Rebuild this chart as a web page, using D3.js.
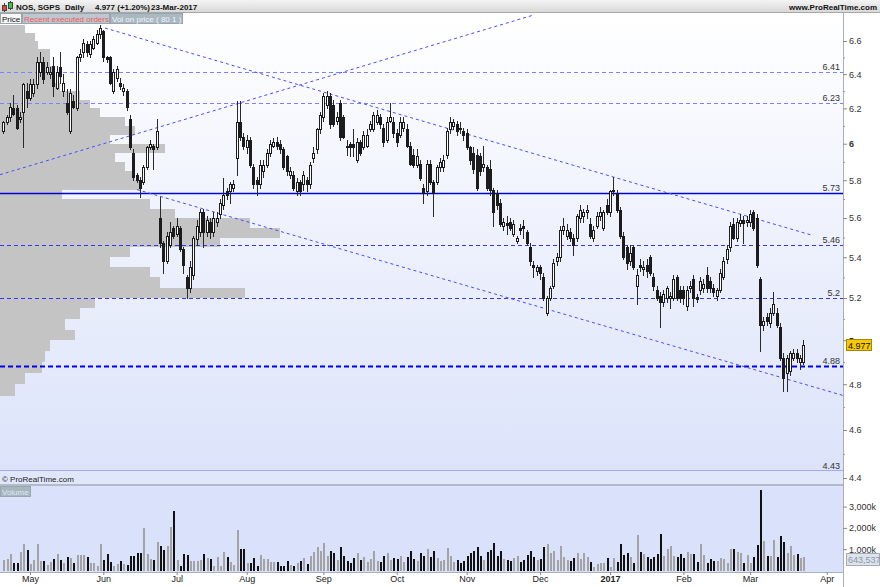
<!DOCTYPE html>
<html><head><meta charset="utf-8">
<script src="https://cdn.jsdelivr.net/npm/d3@7"></script>
<style>
body{margin:0;background:#fff}
svg{display:block;font-family:"Liberation Sans",Arial,sans-serif}
</style>
</head><body>
<svg id="chart" width="880" height="587"></svg>
<script>
// ---------------- DATA ----------------
const firstDay = "2016-04-20";
const lastAxisDay = "2017-04-10";
const holidays = ["2016-12-26"];
const monthLabels = ["May","Jun","Jul","Aug","Sep","Oct","Nov","Dec","2017","Feb","Mar","Apr"];

const opens = [
6.07,6.12,6.15,6.20,6.20,6.14,6.18,6.30,6.26,6.29,
6.34,6.41,6.47,6.41,6.40,6.45,6.32,6.44,6.30,6.23,
6.07,6.24,6.20,6.50,6.53,6.58,6.52,6.56,6.59,6.64,
6.66,6.50,6.50,6.30,6.38,6.35,6.30,6.30,6.14,5.95,
5.83,5.80,5.79,5.87,5.98,5.99,5.98,5.60,5.47,5.38,
5.46,5.55,5.52,5.55,5.44,5.30,5.25,5.31,5.49,5.53,
5.63,5.53,5.58,5.53,5.58,5.62,5.67,5.74,5.74,5.76,
5.92,6.12,6.04,5.98,6.02,5.87,5.80,5.78,5.85,5.88,
5.95,5.99,6.01,6.00,5.97,5.93,5.83,5.83,5.74,5.79,
5.78,5.80,5.78,5.92,5.97,6.08,6.15,6.22,6.27,6.22,
6.13,6.23,6.15,5.99,6.00,6.00,5.91,6.01,5.98,5.99,
6.08,6.08,6.12,6.15,6.09,6.02,6.13,6.12,6.06,6.05,
6.09,6.08,5.99,5.94,5.88,5.89,5.76,5.74,5.89,5.79,
5.79,5.87,5.87,5.94,6.08,6.10,6.11,6.09,6.07,6.06,
5.98,5.95,5.94,5.93,5.87,5.87,5.86,5.75,5.73,5.68,
5.56,5.573,5.58,5.52,5.48,5.55,5.56,5.53,5.45,5.36,
5.33,5.35,5.30,5.13,5.20,5.26,5.38,5.40,5.54,5.51,
5.53,5.50,5.50,5.60,5.61,5.63,5.57,5.50,5.56,5.61,
5.55,5.67,5.63,5.74,5.73,5.64,5.51,5.45,5.38,5.45,
5.26,5.36,5.34,5.36,5.40,5.30,5.24,5.21,5.18,5.20,
5.20,5.20,5.30,5.24,5.24,5.16,5.25,5.29,5.205,5.24,
5.25,5.31,5.28,5.25,5.21,5.24,5.30,5.39,5.45,5.57,
5.50,5.575,5.59,5.58,5.58,5.63,5.60,5.29,5.07,5.11,
5.08,5.13,5.13,5.06,4.92,4.85,4.86,4.92,4.94,4.90,
4.90];

const highs = [
6.13,6.16,6.23,6.28,6.22,6.18,6.35,6.35,6.37,6.37,
6.50,6.53,6.50,6.47,6.44,6.50,6.45,6.53,6.40,6.31,
6.31,6.28,6.51,6.55,6.61,6.60,6.60,6.63,6.67,6.70,
6.67,6.51,6.51,6.43,6.45,6.38,6.34,6.31,6.16,5.97,
5.84,5.82,5.88,5.99,6.02,6.00,6.14,5.71,5.48,5.53,
5.58,5.56,5.60,5.56,5.45,5.31,5.38,5.51,5.59,5.65,
5.65,5.61,5.60,5.63,5.63,5.70,5.81,5.76,5.79,5.80,
6.24,6.24,6.06,6.05,6.04,5.89,5.82,5.91,5.91,5.97,
6.02,6.03,6.04,6.02,5.98,5.94,5.87,5.85,5.81,5.80,
5.85,5.82,5.90,5.98,6.09,6.18,6.29,6.30,6.29,6.25,
6.18,6.25,6.16,6.02,6.01,6.08,6.03,6.02,6.07,6.08,
6.13,6.18,6.19,6.17,6.11,6.15,6.23,6.15,6.08,6.15,
6.15,6.11,6.01,5.97,5.97,5.91,5.78,5.91,5.91,5.80,
5.88,5.92,5.94,6.09,6.15,6.14,6.13,6.12,6.09,6.08,
5.99,5.98,5.97,5.95,5.99,5.88,5.91,5.76,5.75,5.70,
5.60,5.61,5.60,5.59,5.51,5.57,5.59,5.54,5.47,5.38,
5.36,5.36,5.32,5.21,5.26,5.39,5.42,5.56,5.60,5.57,
5.55,5.52,5.62,5.67,5.65,5.67,5.60,5.56,5.63,5.66,
5.64,5.70,5.75,5.82,5.75,5.66,5.53,5.46,5.46,5.46,
5.34,5.39,5.38,5.39,5.41,5.32,5.26,5.23,5.24,5.26,
5.23,5.31,5.31,5.26,5.26,5.26,5.28,5.31,5.22,5.30,
5.29,5.35,5.30,5.27,5.25,5.34,5.40,5.46,5.58,5.60,
5.60,5.62,5.61,5.61,5.64,5.64,5.62,5.30,5.11,5.13,
5.15,5.23,5.15,5.08,4.94,4.93,4.95,4.96,4.96,4.93,
5.00];

const lows = [
6.06,6.11,6.13,6.16,6.08,6.12,5.98,6.21,6.25,6.27,
6.32,6.39,6.35,6.40,6.38,6.27,6.31,6.35,6.27,6.17,
6.06,6.20,6.19,6.48,6.50,6.51,6.50,6.55,6.58,6.62,
6.48,6.47,6.34,6.29,6.36,6.31,6.28,6.19,5.97,5.80,
5.79,5.71,5.78,5.86,5.97,5.86,5.97,5.45,5.32,5.37,
5.45,5.50,5.51,5.43,5.32,5.20,5.23,5.29,5.46,5.51,
5.45,5.51,5.50,5.51,5.56,5.60,5.65,5.70,5.68,5.74,
5.83,6.02,5.97,5.95,5.87,5.76,5.72,5.76,5.82,5.87,
5.93,5.98,5.97,5.95,5.86,5.83,5.81,5.75,5.72,5.72,
5.75,5.74,5.76,5.90,5.95,6.06,6.13,6.20,6.09,6.10,
6.11,6.02,6.03,5.94,5.93,5.93,5.90,5.94,5.97,5.98,
6.07,6.07,6.11,6.09,5.99,6.01,6.12,6.04,5.99,6.04,
6.07,5.98,5.88,5.87,5.87,5.80,5.68,5.72,5.78,5.61,
5.78,5.85,5.85,5.92,6.06,6.08,6.05,6.06,6.02,5.97,
5.89,5.84,5.75,5.83,5.85,5.75,5.72,5.56,5.65,5.56,
5.54,5.52,5.54,5.51,5.47,5.52,5.50,5.46,5.36,5.30,
5.31,5.29,5.19,5.12,5.19,5.25,5.36,5.38,5.52,5.49,
5.48,5.41,5.48,5.58,5.58,5.60,5.50,5.48,5.55,5.59,
5.54,5.62,5.61,5.72,5.63,5.50,5.39,5.34,5.36,5.34,
5.17,5.33,5.31,5.30,5.31,5.24,5.19,5.06,5.16,5.18,
5.15,5.19,5.19,5.18,5.17,5.14,5.23,5.16,5.18,5.22,
5.23,5.23,5.23,5.21,5.19,5.23,5.29,5.37,5.43,5.49,
5.48,5.56,5.47,5.56,5.56,5.54,5.35,4.95,5.05,5.07,
5.06,5.12,5.06,4.91,4.77,4.77,4.84,4.91,4.90,4.87,
4.89];

const closes = [
6.12,6.15,6.21,6.17,6.09,6.15,6.34,6.26,6.34,6.34,
6.47,6.47,6.37,6.44,6.41,6.33,6.41,6.39,6.35,6.18,
6.29,6.21,6.50,6.52,6.59,6.53,6.58,6.61,6.64,6.68,
6.50,6.49,6.35,6.41,6.43,6.33,6.32,6.21,5.98,5.82,
5.80,5.76,5.87,5.98,6.00,5.97,6.07,5.47,5.38,5.51,
5.53,5.51,5.56,5.44,5.36,5.25,5.35,5.50,5.56,5.63,
5.53,5.59,5.53,5.60,5.60,5.68,5.72,5.72,5.78,5.78,
6.12,6.04,5.99,6.02,5.88,5.78,5.78,5.88,5.88,5.95,
6.00,6.01,5.99,5.97,5.87,5.85,5.85,5.76,5.79,5.74,
5.83,5.78,5.88,5.95,6.08,6.16,6.27,6.27,6.11,6.11,
6.15,6.04,6.04,5.985,5.98,5.98,6.01,5.95,6.05,6.05,
6.11,6.16,6.16,6.11,6.01,6.12,6.15,6.06,6.01,6.12,
6.12,5.99,5.89,5.88,5.93,5.81,5.73,5.89,5.79,5.73,
5.87,5.90,5.91,6.07,6.12,6.12,6.07,6.08,6.05,5.98,
5.91,5.86,5.76,5.85,5.89,5.76,5.75,5.63,5.67,5.57,
5.58,5.565,5.55,5.57,5.50,5.54,5.55,5.47,5.38,5.35,
5.35,5.32,5.20,5.20,5.25,5.37,5.40,5.54,5.56,5.54,
5.50,5.46,5.61,5.64,5.63,5.64,5.51,5.54,5.61,5.63,
5.63,5.63,5.74,5.75,5.64,5.51,5.40,5.37,5.42,5.35,
5.31,5.35,5.35,5.33,5.32,5.26,5.20,5.18,5.22,5.25,
5.21,5.29,5.20,5.20,5.20,5.24,5.26,5.20,5.195,5.28,
5.27,5.25,5.25,5.23,5.24,5.32,5.38,5.44,5.56,5.50,
5.58,5.59,5.575,5.59,5.62,5.55,5.36,5.07,5.09,5.09,
5.13,5.17,5.07,4.92,4.83,4.92,4.94,4.94,4.92,4.92,
4.977];

// volume in thousands of shares
const volumes = [
470,550,780,375,375,890,1250,940,310,500,
1250,450,450,265,405,530,780,500,345,625,
580,345,735,735,735,625,375,345,190,1250,
500,780,420,220,310,450,310,250,690,690,
815,845,1990,780,530,500,1315,1160,970,1160,
2035,2815,470,190,780,705,450,440,440,500,
780,580,530,220,625,190,890,625,420,235,
1910,1030,1000,375,345,580,190,735,530,530,
405,390,390,190,220,450,250,190,330,450,
600,300,700,850,1100,900,1300,700,900,800,
500,1100,700,450,350,600,800,500,650,400,
550,900,450,400,700,800,500,600,550,700,
400,650,900,550,450,800,700,1000,650,900,
600,450,500,1050,700,400,500,350,450,700,
800,900,1100,700,500,850,950,1300,700,900,
550,500,450,600,700,400,500,750,900,650,
500,550,1100,1250,800,900,500,1150,650,500,
450,600,800,530,845,625,405,155,300,375,
375,580,155,580,420,1250,735,815,655,375,
1660,860,765,625,530,625,780,1720,690,1015,
1160,690,625,780,580,890,780,780,420,1250,
720,375,530,455,455,610,530,345,1000,1000,
890,845,375,735,345,625,1205,3756,1390,690,
690,1440,655,1630,1360,845,1160,735,780,580,
643.537];

// volume-on-price profile (lower edge of each 0.05 bin, volume in arbitrary units)
const profileLevels = [4.75,4.80,4.85,4.90,4.95,5.00,5.05,5.10,5.15,5.20,5.25,5.30,5.35,5.40,5.45,5.50,5.55,5.60,5.65,5.70,5.75,5.80,5.85,5.90,5.95,6.00,6.05,6.10,6.15,6.20,6.25,6.30,6.35,6.40,6.45,6.50,6.55,6.60,6.65];
const profileVolumes = [15,25,42,45,50,75,65,80,95,245,160,150,110,130,220,280,250,175,150,62,140,135,125,115,165,110,135,125,100,90,80,60,55,55,50,50,38,35,25];
const profileStep = 0.05;

// horizontal support / resistance levels
const levelValues = [6.41, 6.23, 5.73, 5.46, 5.2, 4.88, 4.43];
const levelLabels = ["6.41","6.23","5.73","5.46","5.2","4.88","4.43"];

// trend lines: start/end as (bar index, price)
const trendStartIdx = [30.5, -0.99, 40.1];
const trendStartPrice = [6.68, 5.83, 5.75];
const trendEndIdx = [242.9, 158.9, 251.9];
const trendEndPrice = [5.51, 6.76, 4.75];

const priceTicks = [4.4,4.6,4.8,5,5.2,5.4,5.6,5.8,6,6.2,6.4,6.6];
const priceMinorTicks = [4.5,4.7,4.9,5.1,5.3,5.5,5.7,5.9,6.1,6.3,6.5];
const volumeTicks = [1000,2000,3000];

const headerTexts = ["NOS, SGPS", "Daily", "4.977 (+1.20%)", "23-Mar-2017"];
const tabLabels = ["Price", "Recent executed orders", "Vol on price ( 80 1 )"];

// ---------------- LAYOUT / STYLE ----------------
const W = 880, H = 587;
const plotRight = 843;
const priceTop = 13, priceBottom = 471;
const volTop = 486, volBottom = 572;
const FONT = 9;

// trading days (weekdays minus exchange holidays)
const tradingDays = [];
{
  const d = new Date(firstDay + "T00:00:00Z");
  const end = new Date(lastAxisDay + "T00:00:00Z");
  while (d <= end) {
    const wd = d.getUTCDay();
    const key = d.toISOString().slice(0, 10);
    if (wd !== 0 && wd !== 6 && !holidays.includes(key)) tradingDays.push(key);
    d.setUTCDate(d.getUTCDate() + 1);
  }
}
const monthTickIdx = [];
for (let i = 1; i < tradingDays.length; i++) {
  if (tradingDays[i].slice(5, 7) !== tradingDays[i - 1].slice(5, 7)) monthTickIdx.push(i);
}

const svg = d3.select("#chart");
const defs = svg.append("defs");
const g1 = defs.append("linearGradient").attr("id", "pg").attr("x1", 0).attr("y1", 0).attr("x2", 0).attr("y2", 1);
g1.append("stop").attr("offset", "0%").attr("stop-color", "#ffffff");
g1.append("stop").attr("offset", "100%").attr("stop-color", "#dce3fa");
const g2 = defs.append("linearGradient").attr("id", "hg").attr("x1", 0).attr("y1", 0).attr("x2", 0).attr("y2", 1);
g2.append("stop").attr("offset", "0%").attr("stop-color", "#f4f4f4");
g2.append("stop").attr("offset", "100%").attr("stop-color", "#d6d6d6");
defs.append("clipPath").attr("id", "pclip").append("rect")
  .attr("x", 0).attr("y", priceTop).attr("width", plotRight).attr("height", priceBottom - priceTop);

// scales
const x = d3.scaleLinear().domain([-0.99, 251.86]).range([0, plotRight]);
const y = d3.scaleLog().domain([4.4, 6.6]).range([478, 41]);
const yv = d3.scaleLinear().domain([0, 1000]).range([570.5, 549.2]);
const xp = d3.scaleLinear().domain([0, d3.max(profileVolumes)]).range([0, 280]);

// backgrounds
svg.append("rect").attr("width", W).attr("height", H).attr("fill", "#ffffff");
svg.append("rect").attr("x", 0).attr("y", priceTop).attr("width", plotRight).attr("height", priceBottom - priceTop).attr("fill", "url(#pg)");
svg.append("rect").attr("x", 0).attr("y", priceBottom).attr("width", plotRight).attr("height", 13).attr("fill", "#e1e7fb");
svg.append("rect").attr("x", 0).attr("y", 484).attr("width", plotRight).attr("height", 2).attr("fill", "#b3bbc8");
svg.append("rect").attr("x", 0).attr("y", volTop).attr("width", plotRight).attr("height", volBottom - volTop).attr("fill", "#dae2fb");

// header
svg.append("rect").attr("x", 0).attr("y", 0).attr("width", W).attr("height", 13).attr("fill", "url(#hg)");
svg.append("line").attr("x1", 0).attr("x2", W).attr("y1", 12.5).attr("y2", 12.5).attr("stroke", "#a8a8a8");
// icon (two tiny candles)
svg.append("line").attr("x1", 4.5).attr("x2", 4.5).attr("y1", 3).attr("y2", 12).attr("stroke", "#444");
svg.append("rect").attr("x", 2.5).attr("y", 5.5).attr("width", 4).attr("height", 5).attr("fill", "#e8413a").attr("stroke", "#444");
svg.append("line").attr("x1", 10.5).attr("x2", 10.5).attr("y1", 1).attr("y2", 10).attr("stroke", "#444");
svg.append("rect").attr("x", 8.5).attr("y", 2.5).attr("width", 4).attr("height", 6).attr("fill", "#35c24a").attr("stroke", "#444");
const headerX = [16, 65, 95, 151];
headerTexts.forEach((t, i) => {
  svg.append("text").attr("x", headerX[i]).attr("y", 9.5).attr("font-size", 8).attr("font-weight", "bold")
    .attr("fill", "#111").text(t);
});
svg.append("text").attr("x", 877).attr("y", 9.5).attr("text-anchor", "end").attr("font-size", 8).attr("font-weight", "bold")
  .attr("fill", "#111").text("www.ProRealTime.com");

// clipped price layer
const pl = svg.append("g").attr("clip-path", "url(#pclip)");

// volume profile
pl.append("g").selectAll("rect").data(profileLevels).join("rect")
  .attr("x", 0)
  .attr("y", d => y(d + profileStep))
  .attr("height", d => y(d) - y(d + profileStep))
  .attr("width", (d, i) => xp(profileVolumes[i]))
  .attr("fill", "#c4c4c4")
  .attr("shape-rendering", "crispEdges");

// horizontal levels
const levelStyle = [
  {c: "#8080ff", w: 1, dash: "4,3"},
  {c: "#8080ff", w: 1, dash: "4,3"},
  {c: "#0000d8", w: 1.6, dash: null},
  {c: "#3535ff", w: 1, dash: "4,3"},
  {c: "#3535ff", w: 1, dash: "4,3"},
  {c: "#0000ee", w: 2, dash: "5,3"},
  {c: "#0000d8", w: 1.6, dash: null}
];
levelValues.forEach((v, i) => {
  const yy = Math.round(y(v)) + 0.5;
  pl.append("line").attr("x1", 0).attr("x2", plotRight).attr("y1", yy).attr("y2", yy)
    .attr("stroke", levelStyle[i].c).attr("stroke-width", levelStyle[i].w)
    .attr("stroke-dasharray", levelStyle[i].dash);
});

// trend lines
trendStartIdx.forEach((s, i) => {
  pl.append("line")
    .attr("x1", x(s)).attr("y1", y(trendStartPrice[i]))
    .attr("x2", x(trendEndIdx[i])).attr("y2", y(trendEndPrice[i]))
    .attr("stroke", "#4b4bff").attr("stroke-width", 1).attr("stroke-dasharray", "3,3");
});

// candles
const cg = pl.append("g").attr("shape-rendering", "crispEdges");
opens.forEach((o, i) => {
  const c = closes[i];
  const hi = Math.max(highs[i], o, c), lo = Math.min(lows[i], o, c);
  const cx = Math.round(x(i));
  const up = c >= o;
  cg.append("line").attr("x1", cx + 0.5).attr("x2", cx + 0.5)
    .attr("y1", Math.round(y(hi))).attr("y2", Math.round(y(lo)) + 1)
    .attr("stroke", "#2a2a2a");
  const top = Math.round(y(Math.max(o, c)));
  const bot = Math.round(y(Math.min(o, c)));
  cg.append("rect").attr("x", cx - 0.5).attr("y", top + 0.5)
    .attr("width", 2).attr("height", Math.max(1, bot - top))
    .attr("fill", up ? "#ffffff" : "#1c1c1c").attr("stroke", "#1c1c1c").attr("stroke-width", 1);
});

// level labels
levelValues.forEach((v, i) => {
  svg.append("text").attr("x", 840).attr("y", Math.round(y(v)) - 2)
    .attr("text-anchor", "end").attr("font-size", FONT).attr("fill", "#333").text(levelLabels[i]);
});

// tabs
const tabX = [0, 22, 110], tabW = [22, 88, 73];
const tabBg = ["#f6f6f6", "#bcc7cf", "#aab8c2"], tabFg = ["#111", "#f05a5a", "#f2f5f7"];
tabLabels.forEach((t, i) => {
  svg.append("rect").attr("x", tabX[i] + 0.5).attr("y", 13.5).attr("width", tabW[i] - 1).attr("height", 10)
    .attr("fill", tabBg[i]).attr("stroke", "#9aa4ad");
  svg.append("text").attr("x", tabX[i] + 2).attr("y", 21.5).attr("font-size", 8).attr("fill", tabFg[i]).text(t);
});

// copyright strip
svg.append("text").attr("x", 2).attr("y", 482).attr("font-size", 8).attr("fill", "#222").text("\u00a9 ProRealTime.com");

// volume bars
svg.append("g").attr("shape-rendering", "crispEdges").selectAll("rect").data(volumes).join("rect")
  .attr("x", (d, i) => Math.round(x(i)) - 0.5)
  .attr("y", d => yv(d))
  .attr("width", 2)
  .attr("height", d => yv(0) - yv(d))
  .attr("fill", (d, i) => closes[i] < opens[i] ? "#111111" : "#a3a3a3");

// volume label
svg.append("rect").attr("x", 0.5).attr("y", 486.5).attr("width", 30).attr("height", 10).attr("fill", "#a7b7c1").attr("stroke", "#98a6b0");
svg.append("text").attr("x", 2).attr("y", 494.5).attr("font-size", 8).attr("fill", "#dfe7ee").text("Volume");

// right axis line
svg.append("line").attr("x1", plotRight + 0.5).attr("x2", plotRight + 0.5).attr("y1", 12).attr("y2", H).attr("stroke", "#a9b0ba");

// price axis
const pa = svg.append("g").attr("transform", `translate(${plotRight},0)`)
  .call(d3.axisRight(y).tickValues(priceTicks).tickSize(4).tickPadding(2)
    .tickFormat(d => String(+d.toFixed(1))));
pa.select(".domain").remove();
pa.selectAll("text").attr("font-size", FONT).attr("fill", "#333").attr("font-family", "Liberation Sans, Arial, sans-serif")
  .attr("font-weight", d => Number.isInteger(d) ? "bold" : "normal");
pa.selectAll("line").attr("stroke", "#888");
const pm = svg.append("g").attr("transform", `translate(${plotRight},0)`)
  .call(d3.axisRight(y).tickValues(priceMinorTicks).tickSize(2).tickFormat(""));
pm.select(".domain").remove();
pm.selectAll("line").attr("stroke", "#999");

// volume axis
const va = svg.append("g").attr("transform", `translate(${plotRight},0)`)
  .call(d3.axisRight(yv).tickValues(volumeTicks).tickSize(4).tickPadding(2)
    .tickFormat(d => d3.format(",")(d) + "k"));
va.select(".domain").remove();
va.selectAll("text").attr("font-size", FONT).attr("fill", "#333").attr("font-family", "Liberation Sans, Arial, sans-serif");
va.selectAll("line").attr("stroke", "#888");

// time axis
svg.append("line").attr("x1", 0).attr("x2", plotRight).attr("y1", volBottom + 0.5).attr("y2", volBottom + 0.5).attr("stroke", "#a9b0ba");
const xa = svg.append("g").attr("transform", `translate(0,${volBottom})`)
  .call(d3.axisBottom(x).tickValues(monthTickIdx.slice(0, monthLabels.length)).tickSize(3).tickPadding(1)
    .tickFormat((d, i) => monthLabels[i]));
xa.select(".domain").remove();
xa.selectAll("text").attr("font-size", FONT).attr("fill", "#222").attr("font-family", "Liberation Sans, Arial, sans-serif")
  .attr("font-weight", (d, i) => /^\d+$/.test(monthLabels[i]) ? "bold" : "normal");
xa.selectAll("line").attr("stroke", "#888");

// last price box
const lastC = closes[closes.length - 1];
const ly = y(lastC);
svg.append("rect").attr("x", plotRight + 3.5).attr("y", Math.round(ly) - 5.5).attr("width", 25).attr("height", 11)
  .attr("fill", "#f8c900").attr("stroke", "#a58600");
svg.append("text").attr("x", plotRight + 5).attr("y", Math.round(ly) + 3.5).attr("font-size", FONT).attr("fill", "#111").text(d3.format(".3f")(lastC));

// last volume box
const lastV = volumes[volumes.length - 1];
const lvy = yv(lastV) + 2;
svg.append("rect").attr("x", plotRight + 3.5).attr("y", Math.round(lvy) - 5.5).attr("width", 33).attr("height", 12)
  .attr("fill", "#dde3ec").attr("stroke", "#a3acb8");
svg.append("text").attr("x", plotRight + 5).attr("y", Math.round(lvy) + 4).attr("font-size", FONT).attr("fill", "#8a96a4")
  .text(d3.format(",")(Math.round(lastV * 1000)));
</script>
</body></html>
